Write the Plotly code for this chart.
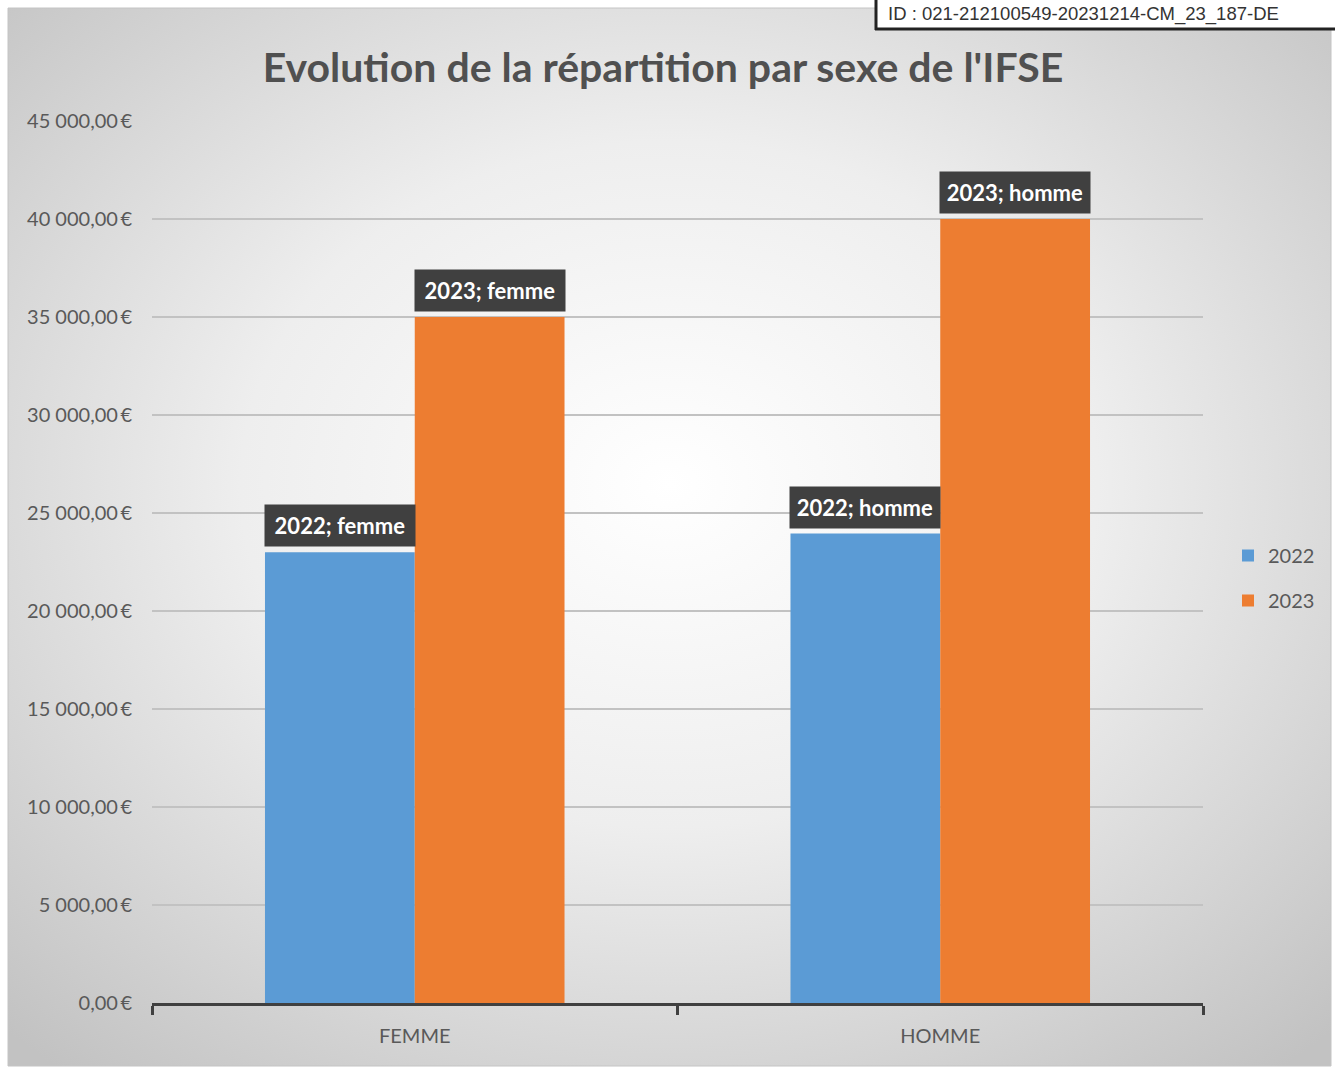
import base64
import plotly.graph_objects as go

categories = ["FEMME", "HOMME"]
series_names = ["2022", "2023"]
values_2022 = [23000, 23950]
values_2023 = [35000, 40000]
label_2022 = ["2022; femme", "2022; homme"]
label_2023 = ["2023; femme", "2023; homme"]
y_ticks = [0, 5000, 10000, 15000, 20000, 25000, 30000, 35000, 40000, 45000]

colors = {"2022": "#5B9BD5", "2023": "#ED7D31"}

W, H = 1335, 1068
ML, MR, MT, MB = 152, 132, 121, 65
PW = W - ML - MR
PH = H - MT - MB
BARGAP = 0.43


def px_x(p):
    return (p - ML) / PW


def px_y(p):
    return (H - MB - p) / PH


def fmt_eur(v):
    s = f"{v:,.2f}".replace(",", " ").replace(".", ",")
    return s + "\u2009€"


fig = go.Figure()
for name, vals in zip(series_names, [values_2022, values_2023]):
    fig.add_trace(go.Bar(
        x=categories, y=vals, name=name, marker_color=colors[name],
        marker_line_width=0, legendgroup=name,
    ))

# data labels
cat_px = PW / len(categories)
bar_px = cat_px * (1 - BARGAP) / 2
for vals, labels, sgn in [(values_2022, label_2022, -1), (values_2023, label_2023, 1)]:
    for c, v, t in zip(categories, vals, labels):
        fig.add_annotation(
            x=c, y=v, text=t, showarrow=False, xanchor="center", yanchor="bottom",
            xshift=sgn * bar_px / 2, yshift=5,
            font=dict(family="Lato, Carlito, sans-serif", size=22, color="white", weight="bold"),
            bgcolor="#404040", borderpad=7, width=bar_px - 14,
        )

# background gradient
svg = (
    '<svg xmlns="http://www.w3.org/2000/svg" width="1000" height="1000" '
    'viewBox="0 0 1000 1000" preserveAspectRatio="none">'
    '<defs><radialGradient id="g" cx="50%" cy="45%" r="72%">'
    '<stop offset="0" stop-color="#ffffff"/>'
    '<stop offset="0.45" stop-color="#eeeeee"/>'
    '<stop offset="1" stop-color="#c2c2c2"/>'
    '</radialGradient></defs>'
    '<rect width="1000" height="1000" fill="url(#g)"/></svg>'
)
src = "data:image/svg+xml;base64," + base64.b64encode(svg.encode()).decode()
fx0, fx1 = px_x(8), px_x(1331)
fy1, fy0 = px_y(8), px_y(1066)
fig.add_layout_image(
    source=src, xref="paper", yref="paper", x=fx0, y=fy1,
    sizex=fx1 - fx0, sizey=fy1 - fy0, sizing="stretch",
    xanchor="left", yanchor="top", layer="below",
)
fig.add_shape(type="rect", xref="paper", yref="paper", x0=fx0, x1=fx1, y0=fy0, y1=fy1,
              line=dict(color="#c4c4c4", width=1), layer="below")

# ID stamp box
fig.add_shape(type="rect", xref="paper", yref="paper", x0=px_x(875), x1=px_x(1340),
              y0=px_y(30), y1=px_y(-2), fillcolor="white", line_width=0, layer="above")
fig.add_shape(type="line", xref="paper", yref="paper", x0=px_x(876), x1=px_x(876),
              y0=px_y(30), y1=px_y(-2), line=dict(color="#222222", width=3))
fig.add_shape(type="line", xref="paper", yref="paper", x0=px_x(875), x1=px_x(1340),
              y0=px_y(29), y1=px_y(29), line=dict(color="#222222", width=3))
fig.add_annotation(
    xref="paper", yref="paper", x=px_x(886), y=px_y(14), xanchor="left", yanchor="middle",
    text="ID : 021-212100549-20231214-CM_23_187-DE", showarrow=False,
    font=dict(family="Liberation Sans, Arial, sans-serif", size=18.5, color="#333333"),
)

fig.update_layout(
    width=W, height=H,
    margin=dict(l=ML, r=MR, t=MT, b=MB, autoexpand=False),
    paper_bgcolor="white", plot_bgcolor="rgba(0,0,0,0)",
    barmode="group", bargap=BARGAP, bargroupgap=0,
    title=dict(
        text="Evolution de la répartition par sexe de l'IFSE",
        x=663 / W, xanchor="center", xref="container",
        y=1 - 68 / H, yanchor="middle", yref="container",
        font=dict(family="Lato, Carlito, sans-serif", size=41, color="#505050", weight="bold"),
    ),
    font=dict(family="Lato, Carlito, sans-serif", color="#595959"),
    legend=dict(
        x=px_x(1228), y=px_y(578), xanchor="left", yanchor="middle",
        font=dict(size=20, color="#595959"), bgcolor="rgba(0,0,0,0)",
        tracegroupgap=16, itemwidth=30,
    ),
    showlegend=True,
)
fig.update_yaxes(
    range=[0, 45000], tickvals=y_ticks, ticktext=[fmt_eur(v) for v in y_ticks],
    showgrid=True, gridcolor="#c2c2c2", gridwidth=2, zeroline=False,
    tickfont=dict(size=20, color="#595959"), ticks="", ticklabelstandoff=19,
    showline=False,
)
fig.update_xaxes(
    showline=True, linecolor="#404040", linewidth=3,
    ticks="outside", tickson="boundaries", ticklen=9, tickwidth=3, tickcolor="#404040",
    tickfont=dict(size=20, color="#595959"), ticklabelstandoff=13,
)

fig.write_html(
    "out.html",
    config={"displayModeBar": False},
    post_script="document.body.style.margin='0';document.body.style.overflow='hidden';",
)
